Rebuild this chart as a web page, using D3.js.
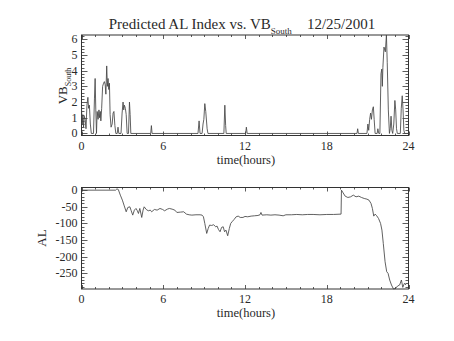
<!DOCTYPE html>
<html>
<head>
<meta charset="utf-8">
<script src="https://cdn.jsdelivr.net/npm/d3@7"></script>
<style>
  html, body { margin: 0; padding: 0; background: #fff; }
  svg { display: block; }
</style>
</head>
<body>
<svg id="chart" width="454" height="341" font-family="'Liberation Serif', 'DejaVu Serif', 'Times New Roman', serif"></svg>
<script>
// Southward IMF component (VB_South) through the day
const vbTime = [0.00,0.05,0.10,0.15,0.20,0.27,0.33,0.40,0.47,0.52,0.58,0.65,0.72,0.88,0.95,1.00,1.05,1.10,1.15,1.22,1.28,1.33,1.38,1.42,1.48,1.55,1.62,1.68,1.74,1.79,1.85,1.90,1.95,2.00,2.05,2.10,2.17,2.25,2.32,2.38,2.45,2.52,2.62,2.68,2.74,2.90,2.98,3.05,3.10,3.15,3.22,3.28,3.35,3.45,3.52,3.57,3.62,5.08,5.13,5.18,8.55,8.63,8.70,8.85,8.92,8.98,9.05,9.12,9.22,9.28,10.45,10.52,10.58,10.62,12.05,12.10,12.16,20.22,20.27,20.32,20.95,21.02,21.08,21.15,21.22,21.28,21.35,21.42,21.48,21.55,21.70,21.75,21.82,21.90,21.98,22.04,22.08,22.12,22.20,22.30,22.38,22.44,22.52,22.60,22.66,22.72,22.78,22.84,22.92,23.00,23.06,23.12,23.18,23.40,23.47,23.54,23.60,23.66,23.72,24.00];
const vbValue = [1.6,0.6,1.2,0.4,1.1,0.9,0.3,1.8,2.3,1.6,1.8,0.6,0.0,0.0,2.2,3.5,1.5,0.0,1.4,0.9,1.5,1.0,1.4,0.8,1.6,3.0,3.2,3.3,3.1,2.5,4.3,3.0,3.5,2.8,3.2,1.2,0.4,0.6,1.3,1.4,0.5,0.0,0.0,0.4,0.0,0.0,1.3,2.0,1.5,1.8,1.6,1.2,0.0,0.0,2.0,1.2,0.0,0.0,0.5,0.0,0.0,0.8,0.0,0.0,0.6,0.9,1.9,1.4,0.3,0.0,0.0,1.8,0.5,0.0,0.0,0.4,0.0,0.0,0.3,0.0,0.0,0.6,0.2,0.9,1.3,0.9,1.5,1.7,0.9,0.0,0.0,0.3,0.0,0.0,3.8,4.1,3.0,4.2,5.5,5.2,6.27,4.5,1.5,0.0,0.3,1.1,0.2,0.0,0.6,2.1,1.5,0.3,0.0,0.0,1.6,2.4,1.5,0.2,0.0,0.0];

// Predicted AL index through the day
const alTime = [0.00,2.50,2.60,2.70,2.85,3.00,3.12,3.28,3.40,3.55,3.65,3.76,3.88,4.00,4.10,4.18,4.28,4.42,4.52,4.60,4.75,4.90,5.05,5.15,5.35,5.55,5.76,5.95,6.10,6.30,6.45,6.65,6.85,7.00,7.25,7.50,7.70,7.90,8.10,8.40,8.70,8.85,8.95,9.05,9.19,9.30,9.40,9.55,9.70,9.85,9.95,10.05,10.17,10.28,10.40,10.50,10.60,10.73,10.85,10.95,11.05,11.20,11.35,11.50,11.65,11.85,12.00,12.20,12.45,12.70,12.95,13.10,13.17,13.25,13.60,13.90,14.20,14.50,14.80,15.00,15.40,15.80,16.20,16.60,17.00,17.50,18.00,18.50,19.05,19.08,19.20,19.35,19.55,19.75,19.95,20.15,20.35,20.55,20.75,20.95,21.10,21.25,21.35,21.45,21.55,21.65,21.80,21.95,22.05,22.15,22.28,22.40,22.50,22.62,22.75,22.90,23.05,23.20,23.35,23.48,23.58,23.70,23.82];
const alValue = [0,0,4,2,-15,-30,-45,-65,-52,-50,-62,-75,-60,-55,-62,-70,-55,-82,-60,-50,-58,-62,-60,-65,-58,-60,-55,-58,-62,-57,-55,-57,-60,-67,-66,-65,-72,-74,-75,-74,-74,-75,-80,-100,-130,-115,-105,-106,-104,-110,-108,-118,-125,-112,-110,-125,-120,-137,-115,-100,-95,-88,-80,-78,-82,-82,-79,-80,-78,-77,-76,-74,-67,-75,-74,-75,-74,-75,-77,-74,-74,-73,-74,-73,-73,-74,-73,-73,-72,0,-8,-18,-22,-20,-15,-20,-18,-22,-25,-27,-30,-40,-55,-78,-72,-76,-85,-100,-120,-160,-215,-245,-250,-270,-285,-297,-295,-288,-285,-270,-292,-280,-285];

// Axis ranges and ticks
const timeRange = [0, 24];
const timeTicks = [0, 6, 12, 18, 24];
const timeMinor = d3.range(0, 25, 1);
const vbRange = [-0.13, 6.27];
const vbTicks = [0, 1, 2, 3, 4, 5, 6];
const vbMinor = d3.range(0, 6.21, 0.2);
const alRange = [-297, 8];
const alTicks = [0, -50, -100, -150, -200, -250];
const alMinor = d3.range(-290, 1, 10);

const svg = d3.select("#chart");
const ink = "#333";
const textInk = "#2a2a2a";

const x = d3.scaleLinear().domain(timeRange).range([81.5, 408.5]);

function panel(top, bottom, yScaleDomain, majors, minors, times, values) {
  const y = d3.scaleLinear().domain(yScaleDomain).range([bottom, top]);
  const g = svg.append("g");
  const left = x.range()[0], right = x.range()[1];
  const w = right - left, h = bottom - top;
  const xMajLen = 4, yMajLen = 6;

  // frame
  g.append("rect").attr("x", left).attr("y", top).attr("width", w).attr("height", h)
    .attr("fill", "none").attr("stroke", ink).attr("stroke-width", 1);

  // x ticks on bottom and top edges, pointing inward
  timeMinor.forEach(t => {
    const major = timeTicks.includes(t);
    const len = major ? xMajLen : xMajLen / 2;
    const px = Math.round(x(t)) + 0.5;
    g.append("line").attr("x1", px).attr("x2", px).attr("y1", bottom).attr("y2", bottom - len).attr("stroke", ink).attr("stroke-width", 0.8);
    g.append("line").attr("x1", px).attr("x2", px).attr("y1", top).attr("y2", top + len).attr("stroke", ink).attr("stroke-width", 0.8);
  });
  // y ticks on left and right edges, pointing inward
  minors.forEach(v => {
    const major = majors.some(m => Math.abs(m - v) < 1e-6);
    const len = major ? yMajLen : yMajLen / 2;
    const py = Math.round(y(v)) + 0.5;
    g.append("line").attr("x1", left).attr("x2", left + len).attr("y1", py).attr("y2", py).attr("stroke", ink).attr("stroke-width", 0.8);
    g.append("line").attr("x1", right).attr("x2", right - len).attr("y1", py).attr("y2", py).attr("stroke", ink).attr("stroke-width", 0.8);
  });

  // tick labels
  g.selectAll("text.xl").data(timeTicks).join("text")
    .attr("x", d => x(d)).attr("y", bottom + 14)
    .attr("text-anchor", "middle").attr("font-size", 12).attr("fill", textInk).text(d => d);
  g.selectAll("text.yl").data(majors).join("text")
    .attr("x", left - 4).attr("y", d => y(d) + 4)
    .attr("text-anchor", "end").attr("font-size", 12).attr("fill", textInk).text(d => d);

  // x axis title
  g.append("text").attr("x", (left + right) / 2 + 1).attr("y", bottom + 28)
    .attr("text-anchor", "middle").attr("font-size", 12.5).attr("fill", textInk).text("time(hours)");

  // data line
  const pts = times.map((t, i) => [t, values[i]]);
  g.append("path").datum(pts)
    .attr("fill", "none").attr("stroke", "#444").attr("stroke-width", 0.85)
    .attr("d", d3.line().x(d => x(d[0])).y(d => y(d[1])));

  return { g, y, left, top, bottom };
}

panel(35, 135.5, vbRange, vbTicks, vbMinor, vbTime, vbValue);
panel(187.5, 289, alRange, alTicks, alMinor, alTime, alValue);

// chart title
const title = svg.append("text").attr("x", 242).attr("y", 29)
  .attr("text-anchor", "middle").attr("font-size", 15).attr("fill", textInk);
title.append("tspan").text("Predicted AL Index vs. VB");
title.append("tspan").attr("font-size", 9).attr("dy", 5).text("South");
title.append("tspan").attr("dy", -5).text("\u00a0\u00a0\u00a0\u00a012/25/2001");

// y axis titles
const vbLabel = svg.append("text").attr("transform", "translate(67,86) rotate(-90)")
  .attr("text-anchor", "middle").attr("font-size", 13).attr("fill", textInk);
vbLabel.append("tspan").text("VB");
vbLabel.append("tspan").attr("font-size", 8).attr("dy", 4).text("South");

svg.append("text").attr("transform", "translate(46,238) rotate(-90)")
  .attr("text-anchor", "middle").attr("font-size", 13).attr("fill", textInk).text("AL");
</script>
</body>
</html>
